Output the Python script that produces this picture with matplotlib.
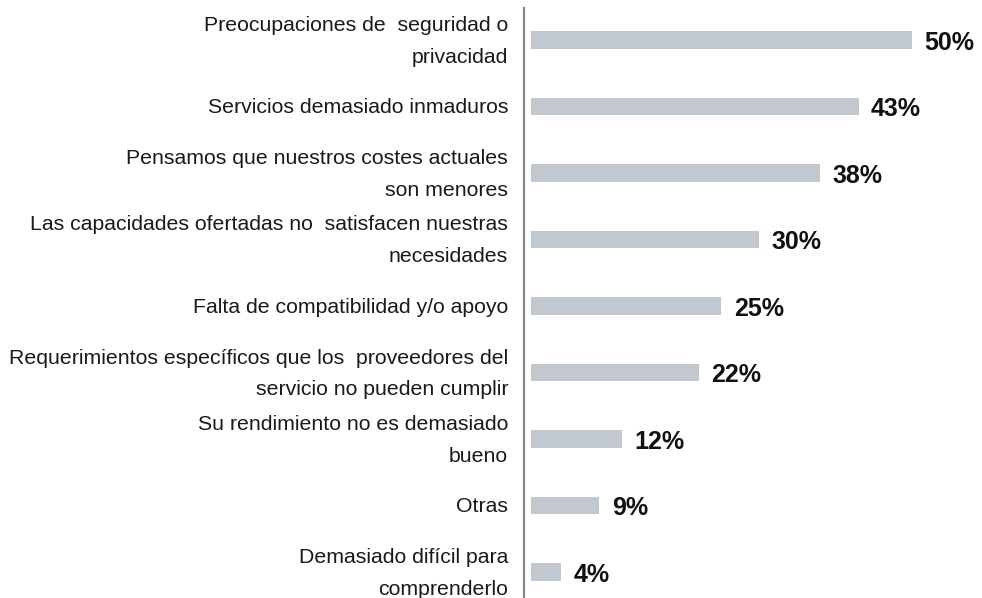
import matplotlib
matplotlib.use("Agg")
import matplotlib.pyplot as plt

categories = [
    "Preocupaciones de  seguridad o\nprivacidad",
    "Servicios demasiado inmaduros",
    "Pensamos que nuestros costes actuales\nson menores",
    "Las capacidades ofertadas no  satisfacen nuestras\nnecesidades",
    "Falta de compatibilidad y/o apoyo",
    "Requerimientos específicos que los  proveedores del\nservicio no pueden cumplir",
    "Su rendimiento no es demasiado\nbueno",
    "Otras",
    "Demasiado difícil para\ncomprenderlo",
]
values = [50, 43, 38, 30, 25, 22, 12, 9, 4]
value_labels = ["50%", "43%", "38%", "30%", "25%", "22%", "12%", "9%", "4%"]

plt.rcParams['font.family'] = ['Liberation Sans', 'DejaVu Sans']

fig = plt.figure(figsize=(9.82, 5.98), dpi=100)
ax = fig.add_axes([524/982, 0, 1 - 524/982, 1 - 8/598])

ypos = list(range(len(categories)))
ax.barh(ypos, values, height=0.26, color="#c1c8cf", left=0)
ax.set_xlim(-0.9, 59.2)
ax.set_ylim(8.39, -0.48)

ax.set_yticks([])
ax.set_xticks([])

for y, cat in zip(ypos, categories):
    ax.annotate(cat, xy=(0, y), xycoords=('axes fraction', 'data'),
                xytext=(-11.5, -1), textcoords='offset points',
                ha='right', va='center', multialignment='right',
                fontsize=15.3, linespacing=1.85, color='#1a1a1a',
                annotation_clip=False)

for s in ['top', 'right', 'bottom']:
    ax.spines[s].set_visible(False)
ax.spines['left'].set_color('#7f8891')
ax.spines['left'].set_linewidth(1.6)
ax.spines['left'].set_position(('data', -0.9))

for y, v, lab in zip(ypos, values, value_labels):
    ax.annotate(lab, xy=(v, y), xytext=(9, -2), textcoords='offset points',
                ha='left', va='center', fontsize=18, fontweight='bold', color='#111111')

fig.savefig("out.png", dpi=100)
